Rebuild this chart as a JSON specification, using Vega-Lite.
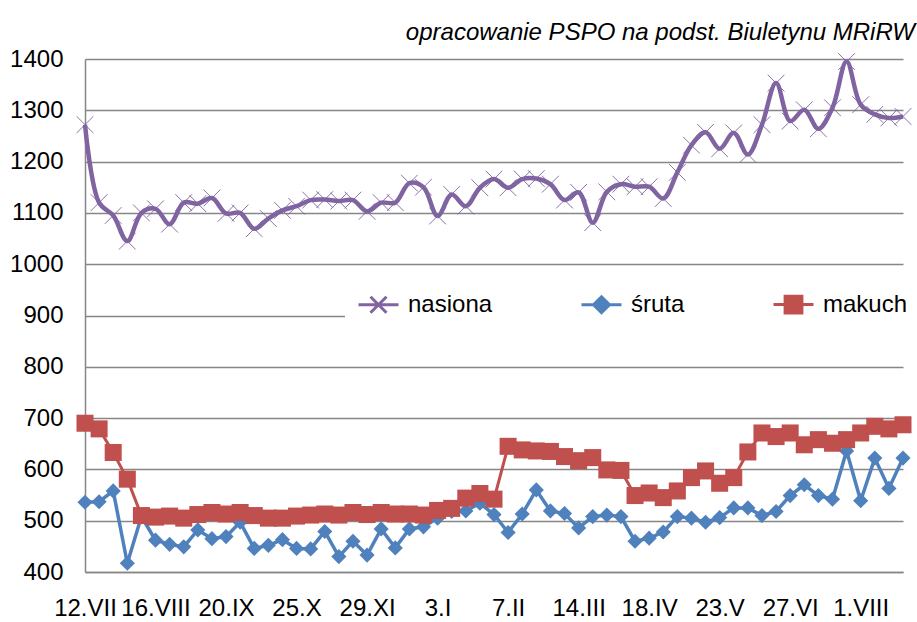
{
  "$schema": "https://vega.github.io/schema/vega-lite/v6.json",
  "autosize": "none",
  "width": 818,
  "height": 513,
  "padding": {"left": 85, "top": 59, "right": 14, "bottom": 50},
  "background": "white",
  "title": {
    "text": "opracowanie PSPO na podst. Biuletynu MRiRW",
    "anchor": "end",
    "fontStyle": "italic",
    "fontWeight": "normal",
    "fontSize": 24,
    "font": "Liberation Sans",
    "color": "#000000",
    "baseline": "bottom",
    "offset": 8,
    "dx": -5,
    "dy": 30
  },
  "config": {
    "view": {"stroke": null},
    "axis": {
      "labelFont": "Liberation Sans",
      "labelFontSize": 24,
      "labelColor": "#000000",
      "domainColor": "#868686",
      "domainWidth": 1.5,
      "gridColor": "#868686",
      "gridWidth": 1.3,
      "ticks": false
    }
  },
  "data": {
    "values": [
      {"d": "12.VII", "nasiona": 1272, "śruta": 536, "makuch": 690},
      {"d": "19.VII", "nasiona": 1120, "śruta": 537, "makuch": 679},
      {"d": "26.VII", "nasiona": 1095, "śruta": 558, "makuch": 633},
      {"d": "2.VIII", "nasiona": 1045, "śruta": 417, "makuch": 581},
      {"d": "9.VIII", "nasiona": 1100, "śruta": 508, "makuch": 510},
      {"d": "16.VIII", "nasiona": 1108, "śruta": 462, "makuch": 507},
      {"d": "23.VIII", "nasiona": 1078, "śruta": 454, "makuch": 509},
      {"d": "30.VIII", "nasiona": 1120, "śruta": 449, "makuch": 505},
      {"d": "6.IX", "nasiona": 1118, "śruta": 482, "makuch": 512},
      {"d": "13.IX", "nasiona": 1129, "śruta": 465, "makuch": 516},
      {"d": "20.IX", "nasiona": 1099, "śruta": 469, "makuch": 513},
      {"d": "27.IX", "nasiona": 1100, "śruta": 497, "makuch": 516},
      {"d": "4.X", "nasiona": 1069, "śruta": 446, "makuch": 510},
      {"d": "11.X", "nasiona": 1089, "śruta": 452, "makuch": 505},
      {"d": "18.X", "nasiona": 1105, "śruta": 463, "makuch": 505},
      {"d": "25.X", "nasiona": 1113, "śruta": 446, "makuch": 509},
      {"d": "1.XI", "nasiona": 1125, "śruta": 445, "makuch": 511},
      {"d": "8.XI", "nasiona": 1126, "śruta": 479, "makuch": 513},
      {"d": "15.XI", "nasiona": 1123, "śruta": 430, "makuch": 511},
      {"d": "22.XI", "nasiona": 1125, "śruta": 460, "makuch": 516},
      {"d": "29.XI", "nasiona": 1103, "śruta": 433, "makuch": 512},
      {"d": "6.XII", "nasiona": 1120, "śruta": 484, "makuch": 516},
      {"d": "13.XII", "nasiona": 1120, "śruta": 447, "makuch": 513},
      {"d": "20.XII", "nasiona": 1158, "śruta": 484, "makuch": 513},
      {"d": "27.XII", "nasiona": 1150, "śruta": 488, "makuch": 511},
      {"d": "3.I", "nasiona": 1094, "śruta": 505, "makuch": 520},
      {"d": "10.I", "nasiona": 1136, "śruta": 518, "makuch": 524},
      {"d": "17.I", "nasiona": 1113, "śruta": 519, "makuch": 544},
      {"d": "24.I", "nasiona": 1149, "śruta": 534, "makuch": 553},
      {"d": "31.I", "nasiona": 1166, "śruta": 512, "makuch": 542},
      {"d": "7.II", "nasiona": 1149, "śruta": 477, "makuch": 645},
      {"d": "14.II", "nasiona": 1166, "śruta": 513, "makuch": 638},
      {"d": "21.II", "nasiona": 1167, "śruta": 560, "makuch": 636},
      {"d": "28.II", "nasiona": 1156, "śruta": 519, "makuch": 635},
      {"d": "7.III", "nasiona": 1125, "śruta": 514, "makuch": 625},
      {"d": "14.III", "nasiona": 1140, "śruta": 486, "makuch": 617},
      {"d": "21.III", "nasiona": 1081, "śruta": 508, "makuch": 623},
      {"d": "28.III", "nasiona": 1141, "śruta": 511, "makuch": 599},
      {"d": "4.IV", "nasiona": 1156, "śruta": 508, "makuch": 598},
      {"d": "11.IV", "nasiona": 1151, "śruta": 460, "makuch": 549},
      {"d": "18.IV", "nasiona": 1151, "śruta": 466, "makuch": 554},
      {"d": "25.IV", "nasiona": 1128, "śruta": 478, "makuch": 545},
      {"d": "2.V", "nasiona": 1179, "śruta": 508, "makuch": 558},
      {"d": "9.V", "nasiona": 1232, "śruta": 505, "makuch": 584},
      {"d": "16.V", "nasiona": 1257, "śruta": 497, "makuch": 597},
      {"d": "23.V", "nasiona": 1225, "śruta": 506, "makuch": 573},
      {"d": "30.V", "nasiona": 1256, "śruta": 525, "makuch": 584},
      {"d": "6.VI", "nasiona": 1214, "śruta": 525, "makuch": 634},
      {"d": "13.VI", "nasiona": 1272, "śruta": 510, "makuch": 671},
      {"d": "20.VI", "nasiona": 1353, "śruta": 518, "makuch": 664},
      {"d": "27.VI", "nasiona": 1279, "śruta": 549, "makuch": 671},
      {"d": "4.VII", "nasiona": 1301, "śruta": 570, "makuch": 648},
      {"d": "11.VII", "nasiona": 1264, "śruta": 549, "makuch": 658},
      {"d": "18.VII", "nasiona": 1305, "śruta": 542, "makuch": 651},
      {"d": "25.VII", "nasiona": 1395, "śruta": 636, "makuch": 658},
      {"d": "1.VIII", "nasiona": 1311, "śruta": 539, "makuch": 671},
      {"d": "8.VIII", "nasiona": 1292, "śruta": 622, "makuch": 684},
      {"d": "15.VIII", "nasiona": 1285, "śruta": 563, "makuch": 679},
      {"d": "22.VIII", "nasiona": 1288, "śruta": 622, "makuch": 687}
    ]
  },
  "transform": [
    {"fold": ["nasiona", "śruta", "makuch"], "as": ["series", "value"]}
  ],
  "encoding": {
    "x": {
      "field": "d",
      "type": "ordinal",
      "sort": null,
      "scale": {"type": "point", "padding": 0},
      "axis": {
        "title": null,
        "values": ["12.VII", "16.VIII", "20.IX", "25.X", "29.XI", "3.I", "7.II", "14.III", "18.IV", "23.V", "27.VI", "1.VIII"],
        "labelAngle": 0,
        "labelPadding": 24,
        "labelOverlap": false,
        "grid": false
      }
    },
    "y": {
      "field": "value",
      "type": "quantitative",
      "scale": {"domain": [400, 1400], "nice": false, "zero": false},
      "axis": {
        "title": null,
        "format": "d",
        "values": [400, 500, 600, 700, 800, 900, 1000, 1100, 1200, 1300, 1400],
        "labelPadding": 22,
        "grid": true
      }
    },
    "color": {
      "field": "series",
      "type": "nominal",
      "scale": {"domain": ["nasiona", "śruta", "makuch"], "range": ["#8064A2", "#4F81BD", "#C0504D"]},
      "legend": {
        "title": null,
        "orient": "none",
        "direction": "horizontal",
        "columns": 3,
        "columnPadding": 82,
        "gridAlign": "each",
        "legendX": 260,
        "legendY": 212,
        "padding": 12,
        "fillColor": "white",
        "symbolSize": 1600,
        "labelOffset": 8,
        "labelFont": "Liberation Sans",
        "labelFontSize": 24,
        "labelColor": "#000000",
        "encoding": {
          "symbols": {
            "shape": {"value": {"expr": "datum.value === 'nasiona' ? 'M-1,0L1,0M-0.4,-0.4L0.4,0.4M-0.4,0.4L0.4,-0.4' : datum.value === 'makuch' ? 'M-1,0L1,0M-0.42,-0.42L0.42,-0.42L0.42,0.42L-0.42,0.42Z' : 'M-1,0L1,0M0,-0.4L0.4,0L0,0.4L-0.4,0Z'"}},
            "fill": {"value": {"expr": "datum.value === 'nasiona' ? 'transparent' : datum.value === 'makuch' ? '#C0504D' : '#4F81BD'"}},
            "stroke": {"value": {"expr": "datum.value === 'nasiona' ? '#8064A2' : datum.value === 'makuch' ? '#C0504D' : '#4F81BD'"}},
            "strokeWidth": {"value": 3},
            "opacity": {"value": 1}
          }
        }
      }
    }
  },
  "layer": [
    {
      "transform": [{"filter": "datum.series === 'nasiona'"}],
      "mark": {"type": "line", "strokeWidth": 4.5, "interpolate": "catmull-rom"}
    },
    {
      "transform": [{"filter": "datum.series === 'nasiona'"}],
      "mark": {"type": "point", "shape": "M-1,-1L1,1M-1,1L1,-1", "filled": false, "size": 280, "strokeWidth": 1, "opacity": 0.9}
    },
    {
      "transform": [{"filter": "datum.series === 'śruta'"}],
      "mark": {"type": "line", "strokeWidth": 3.5}
    },
    {
      "transform": [{"filter": "datum.series === 'śruta'"}],
      "mark": {"type": "point", "shape": "diamond", "filled": true, "size": 230, "opacity": 1}
    },
    {
      "transform": [{"filter": "datum.series === 'makuch'"}],
      "mark": {"type": "line", "strokeWidth": 3}
    },
    {
      "transform": [{"filter": "datum.series === 'makuch'"}],
      "mark": {"type": "point", "shape": "square", "filled": true, "size": 290, "opacity": 1}
    }
  ]
}
